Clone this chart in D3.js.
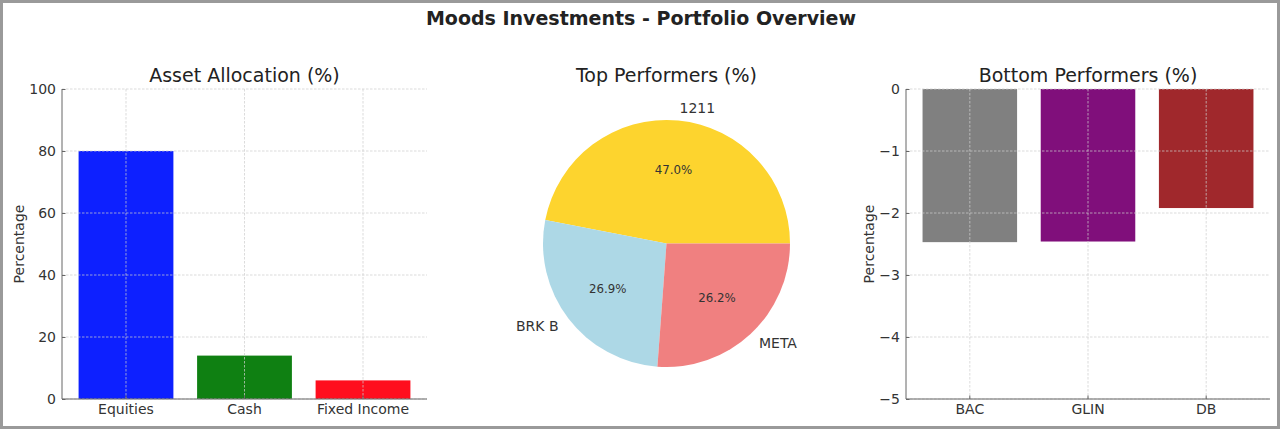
<!DOCTYPE html>
<html><head><meta charset="utf-8">
<script src="https://cdn.jsdelivr.net/npm/d3@7"></script>
<style>
html,body{margin:0;padding:0;background:#fff;}
svg{display:block;font-family:"DejaVu Sans",sans-serif;}
</style></head>
<body>
<svg id="c" width="1280" height="429"></svg>
<script>
// ---- data ----
const allocCategories = ["Equities", "Cash", "Fixed Income"];
const allocValues = [80, 14, 6];
const allocColors = ["#0d20ff", "#0f8012", "#ff0e1e"];
const allocTicks = [0, 20, 40, 60, 80, 100];

const topNames = ["1211", "BRK B", "META"];
const topValues = [47.0, 26.9, 26.2];
const topColors = ["#fdd42e", "#add8e6", "#f08080"];

const bottomNames = ["BAC", "GLIN", "DB"];
const bottomValues = [-2.47, -2.46, -1.92];
const bottomColors = ["#808080", "#800f7b", "#a0282c"];
const bottomTicks = [0, -1, -2, -3, -4, -5];

const svg = d3.select("#c");
// frame
svg.append("rect").attr("x",1.5).attr("y",1.5).attr("width",1277).attr("height",426)
  .attr("fill","#fff").attr("stroke","#9a9a9a").attr("stroke-width",3);

svg.append("text").attr("x",641).attr("y",25).attr("text-anchor","middle")
  .attr("font-size",19).attr("font-weight","bold").attr("fill","#222")
  .text("Moods Investments - Portfolio Overview");

const textCol = "#333";
const gridCol = "#cfcfcf";

function barPanel(x0, x1, cats, vals, cols, yDomain, ticks, title, fmt, ylabX) {
  const yTop = 89, yBot = 399;
  const x = d3.scaleBand().domain(cats).range([x0, x1]).paddingInner(0.2).paddingOuter(0.14);
  const y = d3.scaleLinear().domain(yDomain).range([yBot, yTop]);
  const g = svg.append("g");
  // bars
  g.selectAll("rect.bar").data(cats).join("rect").attr("class","bar")
    .attr("x", d => x(d)).attr("width", x.bandwidth())
    .attr("y", (d,i) => Math.min(y(vals[i]), y(0)))
    .attr("height", (d,i) => Math.abs(y(vals[i]) - y(0)))
    .attr("fill", (d,i) => cols[i]);
  // grid
  g.selectAll("line.hg").data(ticks).join("line").attr("class","hg")
    .attr("x1", x0).attr("x2", x1).attr("y1", d => y(d)).attr("y2", d => y(d))
    .attr("stroke", gridCol).attr("stroke-width",0.8).attr("stroke-dasharray","2.5,1.5").attr("opacity",0.9);
  g.selectAll("line.vg").data(cats).join("line").attr("class","vg")
    .attr("x1", d => x(d)+x.bandwidth()/2).attr("x2", d => x(d)+x.bandwidth()/2)
    .attr("y1", yTop).attr("y2", yBot)
    .attr("stroke", gridCol).attr("stroke-width",0.8).attr("stroke-dasharray","2.5,1.5").attr("opacity",0.9);
  // axes
  const ya = d3.axisLeft(y).tickValues(ticks).tickSize(-3.5).tickPadding(6).tickFormat(fmt);
  const yg = g.append("g").attr("transform",`translate(${x0},0)`).call(ya);
  const xa = d3.axisBottom(x).tickSize(-3.5).tickPadding(6);
  const xg = g.append("g").attr("transform",`translate(0,${yBot})`).call(xa);
  [yg, xg].forEach(a => {
    a.select(".domain").attr("stroke","#666").attr("stroke-width",1);
    a.selectAll(".tick line").attr("stroke","#666");
    a.selectAll(".tick text").attr("fill",textCol).attr("font-size",14).attr("font-family","DejaVu Sans");
  });
  yg.select(".domain").attr("d", `M0,${yBot}V${yTop}`);
  xg.select(".domain").attr("d", `M${x0},0H${x1}`);
  xg.selectAll(".tick text").attr("dy","0.8em").attr("y",4);
  // title
  svg.append("text").attr("x",(x0+x1)/2).attr("y",82).attr("text-anchor","middle")
    .attr("font-size",19).attr("fill","#222").text(title);
  svg.append("text").attr("transform",`translate(${ylabX},${(yTop+yBot)/2}) rotate(-90)`)
    .attr("text-anchor","middle").attr("font-size",14).attr("fill",textCol).attr("dy","0.35em").text("Percentage");
}

barPanel(62, 427, allocCategories, allocValues, allocColors, [0,100], allocTicks,
  "Asset Allocation (%)", d3.format("d"), 19);
barPanel(906, 1270, bottomNames, bottomValues, bottomColors, [-5,0], bottomTicks,
  "Bottom Performers (%)", d => d3.format("d")(d).replace("-", "\u2212"), 869);

// pie
const cx = 666.5, cy = 243.5, r = 123.5;
svg.append("text").attr("x",cx).attr("y",82).attr("text-anchor","middle")
  .attr("font-size",19).attr("fill","#222").text("Top Performers (%)");
const total = d3.sum(topValues);
// matplotlib: start at 3 o'clock, counterclockwise. d3: 0 at 12 o'clock clockwise.
const pie = d3.pie().sort(null).value(d => d)
  .startAngle(Math.PI/2).endAngle(Math.PI/2 - 2*Math.PI);
const arcs = pie(topValues);
const arc = d3.arc().innerRadius(0).outerRadius(r);
const pg = svg.append("g").attr("transform",`translate(${cx},${cy})`);
pg.selectAll("path").data(arcs).join("path").attr("d", arc).attr("fill",(d,i)=>topColors[i]);
arcs.forEach((a,i) => {
  const mid = (a.startAngle + a.endAngle)/2;
  const dx = Math.sin(mid), dy = -Math.cos(mid);
  pg.append("text").attr("x", 0.6*r*dx).attr("y", 0.6*r*dy).attr("dy","0.35em")
    .attr("text-anchor","middle").attr("font-size",11.8).attr("fill","#333")
    .text(d3.format(".1f")(topValues[i]/total*100) + "%");
  pg.append("text").attr("x", 1.1*r*dx).attr("y", 1.1*r*dy).attr("dy","0.35em")
    .attr("text-anchor", dx > 0 ? "start" : "end").attr("font-size",14).attr("fill","#333")
    .text(topNames[i]);
});
</script>
</body></html>
